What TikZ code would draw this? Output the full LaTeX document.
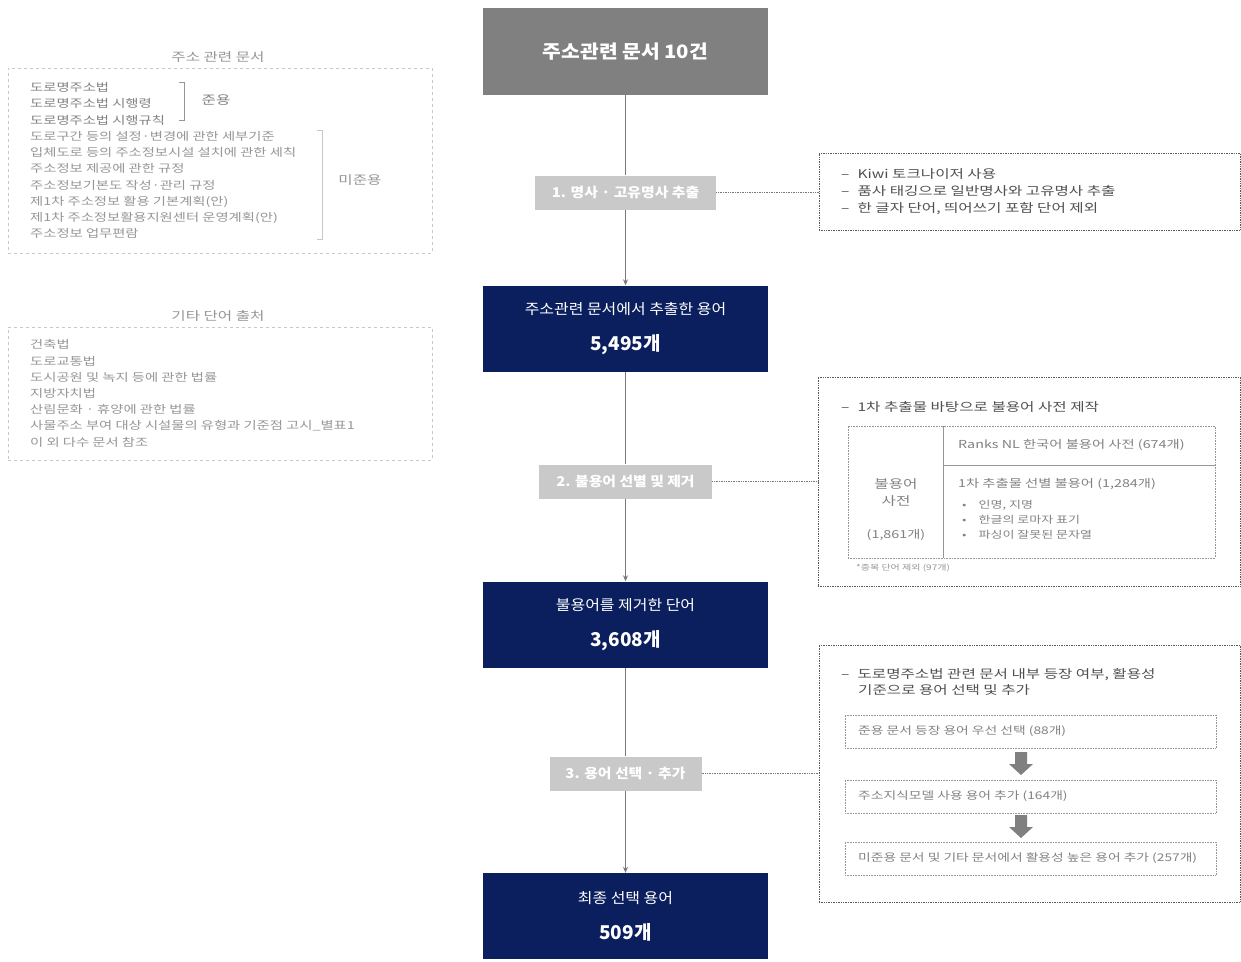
\documentclass[tikz,border=0pt]{standalone}
\usepackage{fontspec}
\setmainfont{Noto Sans CJK KR}
\newfontfamily\widefam{Noto Sans CJK KR}[FakeStretch=1.3]
\newfontfamily\midfam{Noto Sans CJK KR}[FakeStretch=1.1]
\usetikzlibrary{arrows.meta,calc}
\definecolor{navy}{RGB}{11,31,94}
\definecolor{topgray}{RGB}{128,128,128}
\definecolor{stepgray}{RGB}{201,201,201}
\definecolor{linegray}{RGB}{120,120,120}
\definecolor{boxline}{RGB}{90,90,90}
\definecolor{lightline}{RGB}{200,200,200}
\definecolor{txtdark}{RGB}{80,80,80}
\definecolor{txtmid}{RGB}{130,130,130}
\definecolor{txtlight}{RGB}{150,150,150}
\tikzset{
  mainbox/.style={fill=navy, minimum width=285pt, minimum height=86pt, inner sep=0pt, text=white, align=center},
  stepbox/.style={fill=stepgray, minimum height=34pt, inner sep=0pt, text=white, font=\midfam\fontsize{13.5}{13.5}\selectfont\bfseries},
  infobox/.style={draw=boxline, densely dotted, line width=0.7pt, inner sep=0pt},
  leftbox/.style={draw=lightline, dashed, line width=0.6pt, minimum width=424pt, inner sep=0pt},
  subbox/.style={draw=txtlight, densely dotted, line width=0.6pt, minimum width=371pt, minimum height=33pt, inner sep=0pt},
  flow/.style={draw=linegray, line width=0.8pt},
  flowarrow/.style={flow, -{Stealth[length=6pt,width=5pt]}},
  side/.style={draw=linegray, densely dotted, line width=0.7pt},
  bigarrow/.style={fill=topgray, draw=none},
  ltxt/.style={inner sep=0pt, anchor=north west, align=left, font=\widefam\fontsize{11}{16.2}\selectfont, text=txtlight},
  rtxt/.style={inner sep=0pt, anchor=west, align=left, font=\widefam\fontsize{12}{16.7}\selectfont, text=txtdark},
  ttxt/.style={inner sep=0pt, anchor=west, align=left, font=\widefam\fontsize{11}{15}\selectfont, text=txtmid},
  stxt/.style={inner sep=0pt, anchor=west, align=left, font=\widefam\fontsize{10.6}{15}\selectfont, text=txtmid},
}
\begin{document}
\begin{tikzpicture}[x=1pt,y=-1pt]
\useasboundingbox[fill=white] (0,0) rectangle (1241,961);

% central flow
\node[fill=topgray, minimum width=285pt, minimum height=87pt, inner sep=0pt, text=white,
      font=\midfam\fontsize{18.5}{18.5}\selectfont\bfseries] (top) at (625.5,51.5) {주소관련 문서 10건};
\node[stepbox, minimum width=181pt] (s1) at (625.5,192.5) {1. 명사 · 고유명사 추출};
\node[mainbox] (b1) at (625.5,328.5) {{\midfam\fontsize{14.5}{14.5}\selectfont 주소관련 문서에서 추출한 용어}\\[18pt]{\fontsize{19}{19}\selectfont\bfseries 5,495개}};
\node[stepbox, minimum width=173pt] (s2) at (625.5,481.5) {2. 불용어 선별 및 제거};
\node[mainbox] (b2) at (625.5,624.5) {{\midfam\fontsize{14.5}{14.5}\selectfont 불용어를 제거한 단어}\\[18pt]{\fontsize{19}{19}\selectfont\bfseries 3,608개}};
\node[stepbox, minimum width=152pt] (s3) at (625.5,773.5) {3. 용어 선택 · 추가};
\node[mainbox] (b3) at (625.5,916) {{\midfam\fontsize{14.5}{14.5}\selectfont 최종 선택 용어}\\[18pt]{\fontsize{19}{19}\selectfont\bfseries 509개}};

\draw[flow] (top) -- (s1);
\draw[flowarrow] (s1) -- (b1);
\draw[flow] (b1) -- (s2);
\draw[flowarrow] (s2) -- (b2);
\draw[flow] (b2) -- (s3);
\draw[flowarrow] (s3) -- (b3);

% right box 1
\node[infobox, minimum width=421pt, minimum height=77pt] (r1) at (1029.5,191.5) {};
\node[rtxt] (r1t) at (841,191.5) {–\hspace{8pt}Kiwi 토크나이저 사용\\–\hspace{8pt}품사 태깅으로 일반명사와 고유명사 추출\\–\hspace{8pt}한 글자 단어, 띄어쓰기 포함 단어 제외};
\draw[side] (s1.east) -- (s1.east -| r1.west);

% right box 2
\node[infobox, minimum width=422pt, minimum height=209pt] (r2) at (1029,481.5) {};
\node[rtxt] (r2h) at (841,406.5) {–\hspace{8pt}1차 추출물 바탕으로 불용어 사전 제작};
\node[draw=txtlight, densely dotted, line width=0.6pt, minimum width=367pt, minimum height=132pt, inner sep=0pt] (tab) at (1031.5,492) {};
\coordinate (vdiv) at (943,426);
\coordinate (hdiv) at (943,465);
\draw[draw=txtlight, line width=0.6pt] (vdiv) -- (vdiv |- tab.south);
\draw[draw=txtlight, line width=0.6pt] (hdiv) -- (hdiv -| tab.east);
\node[inner sep=0pt, align=center, font=\widefam\fontsize{12}{17}\selectfont, text=txtmid] (tl1) at (896,492) {불용어\\사전};
\node[inner sep=0pt, font=\widefam\fontsize{11}{11}\selectfont, text=txtmid] (tl2) at (896,535) {(1,861개)};
\node[ttxt] (tr1) at (958,445.5) {Ranks NL 한국어 불용어 사전 (674개)};
\node[ttxt] (tr2) at (958,484) {1차 추출물 선별 불용어 (1,284개)};
\node[inner sep=0pt, anchor=north west, align=left, font=\widefam\fontsize{10}{15}\selectfont, text=txtmid] (tr3) at (962,500) {•\hspace{12pt}인명, 지명\\•\hspace{12pt}한글의 로마자 표기\\•\hspace{12pt}파싱이 잘못된 문자열};
\node[inner sep=0pt, anchor=west, font=\widefam\fontsize{7.7}{7.7}\selectfont, text=txtlight] (fn) at (856,568.5) {*중복 단어 제외 (97개)};
\draw[side] (s2.east) -- (s2.east -| r2.west);

% right box 3
\node[infobox, minimum width=421pt, minimum height=257pt] (r3) at (1029.5,773.5) {};
\node[rtxt, anchor=north west] (r3h) at (841,668) {–\hspace{8pt}도로명주소법 관련 문서 내부 등장 여부, 활용성\\\hspace{17pt}기준으로 용어 선택 및 추가};
\node[subbox] (c1) at (1030.5,731.5) {};
\node[subbox] (c2) at (1030.5,796.5) {};
\node[subbox] (c3) at (1030.5,858.5) {};
\node[stxt] (c1t) at (858,731.5) {준용 문서 등장 용어 우선 선택 (88개)};
\node[stxt] (c2t) at (858,796.5) {주소지식모델 사용 용어 추가 (164개)};
\node[stxt] (c3t) at (858,858.5) {미준용 문서 및 기타 문서에서 활용성 높은 용어 추가 (257개)};
\coordinate (a1) at (1021,752);
\coordinate (a2) at (1021,815);
\fill[bigarrow] (a1) ++(-6,0) -- ++(12,0) -- ++(0,12) -- ++(6,0) -- ++(-12,11) -- ++(-12,-11) -- ++(6,0) -- cycle;
\fill[bigarrow] (a2) ++(-6,0) -- ++(12,0) -- ++(0,12) -- ++(6,0) -- ++(-12,11) -- ++(-12,-11) -- ++(6,0) -- cycle;
\draw[side] (s3.east) -- (s3.east -| r3.west);

% left box 1
\node[inner sep=0pt, font=\widefam\fontsize{12}{12}\selectfont, text=txtlight] (lt1) at (218,57) {주소 관련 문서};
\node[leftbox, minimum height=185pt] (lb1) at (220,160.5) {};
\node[ltxt] (lb1t) at (30,82.5) {{\color{txtmid}도로명주소법}\\{\color{txtmid}도로명주소법 시행령}\\{\color{txtmid}도로명주소법 시행규칙}\\도로구간 등의 설정·변경에 관한 세부기준\\입체도로 등의 주소정보시설 설치에 관한 세칙\\주소정보 제공에 관한 규정\\주소정보기본도 작성·관리 규정\\제1차 주소정보 활용 기본계획(안)\\제1차 주소정보활용지원센터 운영계획(안)\\주소정보 업무편람};
\draw[draw=txtlight, line width=0.6pt] (179,82) -- (184,82) -- (184,120) -- (179,120);
\node[inner sep=0pt, font=\widefam\fontsize{12}{12}\selectfont, text=txtmid] (jy) at (216,100) {준용};
\draw[draw=lightline, line width=0.6pt] (317,130) -- (322,130) -- (322,239) -- (317,239);
\node[inner sep=0pt, font=\widefam\fontsize{12}{12}\selectfont, text=txtlight] (mjy) at (360,180) {미준용};

% left box 2
\node[inner sep=0pt, font=\widefam\fontsize{12}{12}\selectfont, text=txtlight] (lt2) at (218,316) {기타 단어 출처};
\node[leftbox, minimum height=133pt] (lb2) at (220,393.5) {};
\node[ltxt] (lb2t) at (30,339.5) {건축법\\도로교통법\\도시공원 및 녹지 등에 관한 법률\\지방자치법\\산림문화 · 휴양에 관한 법률\\사물주소 부여 대상 시설물의 유형과 기준점 고시\_별표1\\이 외 다수 문서 참조};
\end{tikzpicture}
\end{document}
